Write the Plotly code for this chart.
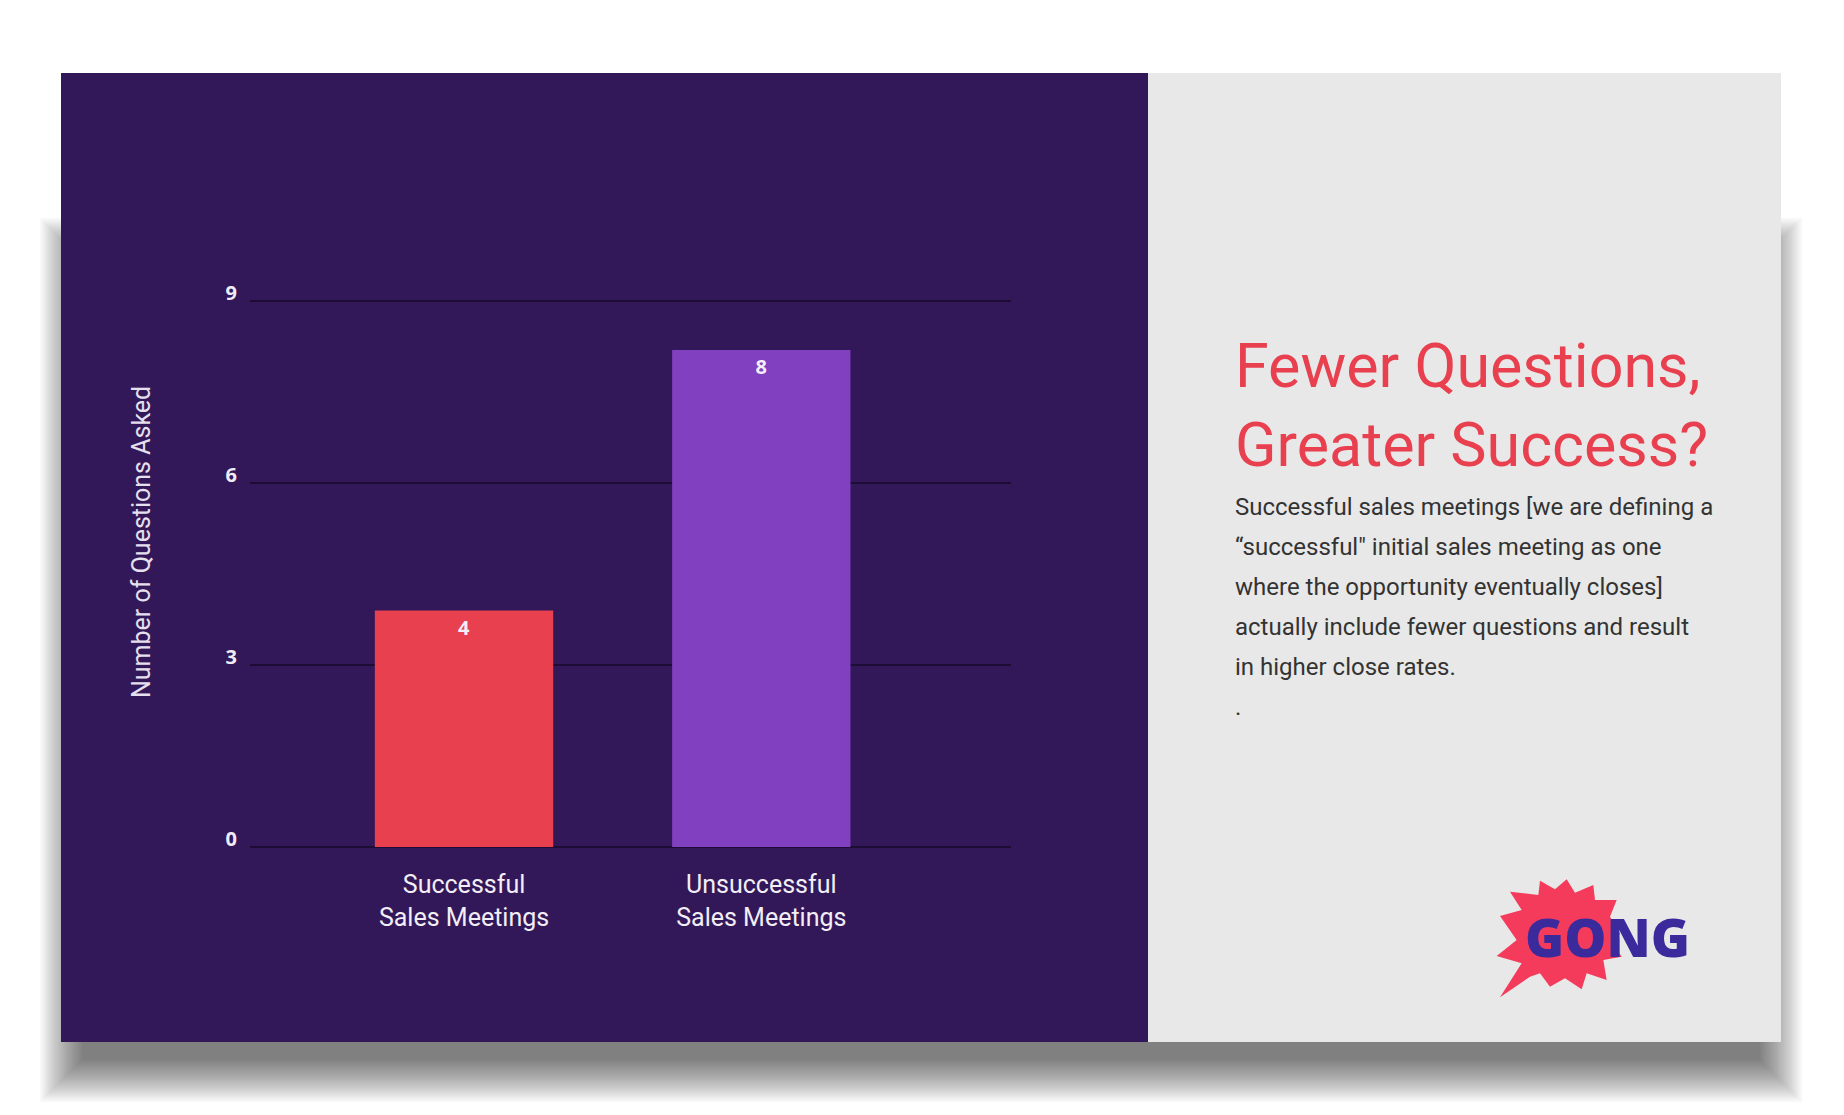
import plotly.graph_objects as go

# ---- data ----
categories = ["Successful<br>Sales Meetings", "Unsuccessful<br>Sales Meetings"]
questions = [3.9, 8.2]
bar_colors = ["#e8404f", "#8040c0"]
y_ticks = [0, 3, 6, 9]
y_title = "Number of Questions Asked"
headline = ["Fewer Questions,", "Greater Success?"]
body_lines = [
    "Successful sales meetings [we are defining a",
    "\u201csuccessful\" initial sales meeting as one",
    "where the opportunity eventually closes]",
    "actually include fewer questions and result",
    "in higher close rates.",
    ".",
]
logo_text = "GONG"

W, H = 1844, 1115


def fx(px):
    return px / W


def fy(py):
    return 1 - py / H


fig = go.Figure()
fig.add_trace(go.Bar(
    x=categories, y=questions,
    marker=dict(color=bar_colors, line=dict(width=0)),
    width=0.6,
    texttemplate="%{y:.0f}", textposition="inside", insidetextanchor="end",
    textfont=dict(family="Open Sans", size=20, color="#f4eef8", weight="bold"),
    textangle=0, hoverinfo="skip",
))

shapes = []
# soft drop shadow built from many faint layers
n_layers = 26
for i in range(n_layers):
    e = 1.7 * (i + 1)
    shapes.append(dict(type="rect", xref="paper", yref="paper", layer="below",
                       x0=fx(84 - e), x1=fx(1758 + e), y0=fy(1058 + e), y1=fy(262 - e),
                       line=dict(width=0), fillcolor="rgba(0,0,0,0.024)"))
# slide panels
shapes.append(dict(type="rect", xref="paper", yref="paper", layer="below",
                   x0=fx(61), x1=fx(1148), y0=fy(1042), y1=fy(73),
                   line=dict(width=0), fillcolor="#321858"))
shapes.append(dict(type="rect", xref="paper", yref="paper", layer="below",
                   x0=fx(1148), x1=fx(1781), y0=fy(1042), y1=fy(73),
                   line=dict(width=0), fillcolor="#e8e8e8"))

# logo starburst (decoration)
burst = [(150, 442), (215, 340), (140, 318), (200, 270), (150, 198), (215, 180),
         (180, 125), (265, 135), (270, 92), (315, 118), (350, 88), (375, 128),
         (430, 105), (435, 150), (500, 150), (480, 200), (510, 250), (495, 290),
         (515, 320), (460, 330), (470, 390), (410, 370), (395, 418), (345, 385),
         (300, 410), (270, 370), (240, 380)]
path = ""
for k, (zx, zy) in enumerate(burst):
    px, py = 1450 + zx / 3, 850 + zy / 3
    path += ("M" if k == 0 else "L") + f"{fx(px):.5f},{fy(py):.5f} "
path += "Z"
shapes.append(dict(type="path", xref="paper", yref="paper", path=path,
                   fillcolor="#f53b5c", line=dict(width=0), layer="above"))

annotations = []
annotations.append(dict(text=y_title, x=fx(141), y=fy(542), xref="paper", yref="paper",
                        textangle=-90, showarrow=False, xanchor="center", yanchor="middle",
                        font=dict(family="Roboto", size=25, color="#e6e0ee")))
annotations.append(dict(text="<br>".join(headline), x=fx(1233), y=fy(328), xref="paper",
                        yref="paper", showarrow=False, xanchor="left", yanchor="top",
                        align="left", font=dict(family="Roboto", size=61, color="#e8404f")))
for i, line in enumerate(body_lines):
    annotations.append(dict(text=line, x=fx(1233), y=fy(523 + 40 * i), xref="paper",
                            yref="paper", showarrow=False, xanchor="left", yanchor="bottom",
                            align="left", font=dict(family="Roboto", size=24, color="#333333")))
annotations.append(dict(text=logo_text, x=fx(1607), y=fy(936), xref="paper", yref="paper",
                        showarrow=False, xanchor="center", yanchor="middle",
                        font=dict(family="Open Sans", size=53, color="#3b2a9c", weight=800)))

fig.update_layout(
    width=W, height=H, margin=dict(l=0, r=0, t=0, b=0, pad=0), autosize=False,
    paper_bgcolor="white", plot_bgcolor="rgba(0,0,0,0)",
    showlegend=False, shapes=shapes, annotations=annotations,
    xaxis=dict(domain=[fx(250), fx(1011)], range=[-0.72, 1.84], showgrid=False,
               showline=False, zeroline=False, ticks="", automargin=False,
               ticklabelstandoff=20,
               tickfont=dict(family="Roboto", size=25, color="#f2eef6")),
    yaxis=dict(domain=[fy(847), fy(299)], range=[0, 9.04], tickvals=y_ticks,
               showgrid=True, gridcolor="#1d0c33", gridwidth=2, zeroline=True,
               zerolinecolor="#1d0c33", zerolinewidth=2, showline=False, ticks="",
               automargin=False, ticklabelstandoff=12, ticklabelshift=-8,
               tickfont=dict(family="Open Sans", size=20, color="#f0ecf5", weight="bold")),
)

fig.write_html("out.html", config={"displayModeBar": False},
               post_script="document.body.style.margin='0';")
